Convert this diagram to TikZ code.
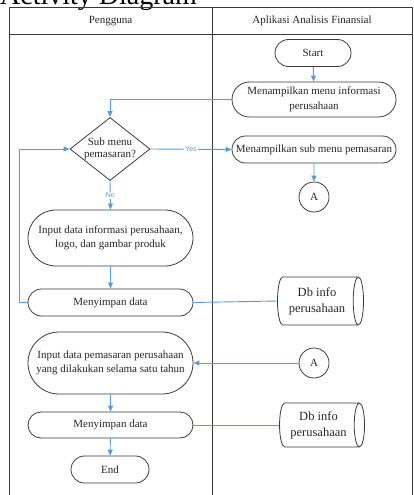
\documentclass[tikz,border=0pt]{standalone}
\usepackage{fontspec}
\setmainfont{Liberation Serif}
\newfontfamily\labelfont{Liberation Sans}
\usetikzlibrary{shapes.geometric,shapes.misc,arrows.meta}
\definecolor{flow}{HTML}{5B9BD5}
\definecolor{edge}{HTML}{3A3A3A}
\begin{document}
\begin{tikzpicture}[x=1pt,y=-1pt,
  every node/.style={font=\fontsize{11}{14.5}\selectfont, text=black!85},
  act/.style={rounded rectangle, draw=edge, line width=0.8pt, align=center, inner sep=1pt},
  decide/.style={diamond, draw=edge, line width=0.8pt, align=center, inner sep=0pt,
    minimum width=80pt, minimum height=63pt, aspect=1.27, font=\fontsize{11}{12}\selectfont},
  conn/.style={circle, draw=edge, line width=0.8pt, minimum size=30pt, inner sep=0pt},
  store/.style={cylinder, draw=edge, line width=0.8pt, align=center, aspect=0.35,
    inner sep=1pt, font=\fontsize{12.5}{16}\selectfont},
  flowline/.style={draw=flow, line width=0.9pt},
  flowarrow/.style={flowline, -{Triangle[length=6pt,width=5pt]}},
  guard/.style={font=\labelfont\fontsize{7}{8}\selectfont, text=flow, fill=white, inner sep=1pt}
]
\useasboundingbox (0,0) rectangle (413,495);
\clip (0,0) rectangle (413,495);

% heading above the swimlanes
\node[anchor=base west, inner sep=0pt, font=\fontsize{28}{30}\selectfont, text=black] (title) at (0,4.5) {Activity Diagram};

% swimlane frame
\draw[edge, line width=0.9pt] (9,520) -- (9,7) -- (412.5,7) -- (412.5,520);
\draw[edge, line width=0.9pt] (9,34) -- (412.5,34);
\draw[edge, line width=0.9pt] (212,7) -- (212,520);
\node (laneA) at (110.5,21) {Pengguna};
\node (laneB) at (312,21) {Aplikasi Analisis Finansial};

% activities
\node[act, minimum width=78pt, minimum height=27pt] (start) at (313,53) {Start};
\node[act, minimum width=166pt, minimum height=35pt] (menu) at (314,99.5) {Menampilkan menu informasi\\perusahaan};
\node[decide] (dec) at (110,149) {Sub menu\\pemasaran?};
\node[act, minimum width=166pt, minimum height=27pt] (sub) at (314,149.5) {Menampilkan sub menu pemasaran};
\node[conn] (a1) at (314,197) {A};
\node[act, minimum width=167pt, minimum height=56pt] (inInfo) at (110.5,238) {Input data informasi perusahaan,\\logo, dan gambar produk};
\node[act, minimum width=167pt, minimum height=27pt] (save1) at (110.5,302.5) {Menyimpan data};
\node[store, minimum height=86pt, minimum width=48pt] (db1) at (317,301) {Db info\\perusahaan};
\node[act, minimum width=167pt, minimum height=62pt] (inMkt) at (110.5,363) {Input data pemasaran perusahaan\\yang dilakukan selama satu tahun};
\node[conn] (a2) at (314,363) {A};
\node[act, minimum width=167pt, minimum height=26pt] (save2) at (110.5,425) {Menyimpan data};
\node[store, minimum height=85pt, minimum width=44pt] (db2) at (318.5,425) {Db info\\perusahaan};
\node[act, minimum width=80pt, minimum height=27pt] (end) at (110,469.5) {End};

% control flow
\draw[flowarrow] (start) -- (menu);
\draw[flowarrow] (menu.west) -| (dec.north);
\draw[flowarrow] (dec.east) -- node[guard, pos=0.5] {Yes} (sub.west);
\draw[flowarrow] (sub) -- (a1);
\draw[flowarrow] (dec.south) -- node[guard, pos=0.5] {No} (inInfo.north);
\draw[flowarrow] (inInfo) -- (save1);
\coordinate (loop) at (19,302.5);
\draw[flowarrow] (save1.west) -- (loop) |- (dec.west);
\draw[flowline] (save1.east) -- (db1.west);
\draw[flowarrow] (a2) -- (inMkt.east);
\draw[flowarrow] (inMkt) -- (save2);
\draw[flowline] (save2.east) -- (db2.west);
\draw[flowarrow] (save2) -- (end);
\end{tikzpicture}
\end{document}
